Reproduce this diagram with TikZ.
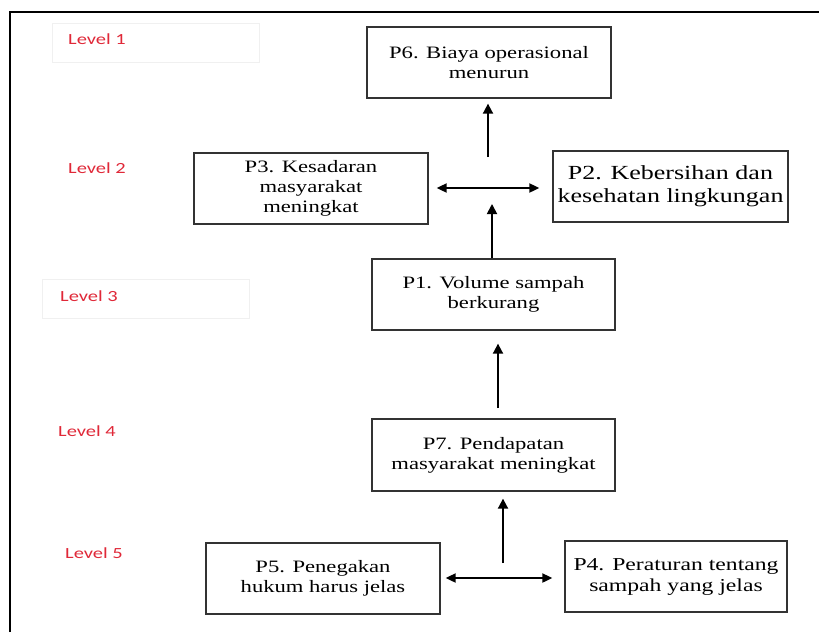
\documentclass[tikz,border=0pt]{standalone}
\usepackage{fontspec}
\setmainfont{Liberation Serif}[FakeStretch=1.3]
\newfontfamily\lvlfont{Carlito}[FakeStretch=1.32]
\usetikzlibrary{arrows.meta}
\definecolor{lvlred}{RGB}{224,40,56}
\tikzset{
  x=1pt, y=-1pt,
  pbox/.style={draw=black!80, line width=1.3pt, minimum height=71pt,
    align=center, inner sep=0pt, font=\fontsize{17.4}{20}\selectfont},
  lvl/.style={anchor=base west, inner sep=0pt, text=lvlred,
    font=\lvlfont\fontsize{15.5}{18}\selectfont},
  lvlframe/.style={draw=black!6, line width=0.8pt},
  arr/.style={line width=1.8pt, -{Triangle[length=10pt,width=10pt]}},
  darr/.style={line width=1.9pt, {Triangle[length=10pt,width=9pt]}-{Triangle[length=10pt,width=9pt]}}
}
\begin{document}
\begin{tikzpicture}
\useasboundingbox (0,0) rectangle (819,632);
\fill[white] (0,0) rectangle (819,632);

% outer frame (only top and left edges fall inside the page)
\draw[line width=2pt] (10,632) -- (10,12) -- (819,12);

% faint label frames
\draw[lvlframe] (52,23) rectangle (259,62);
\draw[lvlframe] (42,279) rectangle (249,318);

% level labels
\node[lvl] (L1) at (68,44) {Level 1};
\node[lvl] (L2) at (68,173) {Level 2};
\node[lvl] (L3) at (60,301) {Level 3};
\node[lvl] (L4) at (58,436) {Level 4};
\node[lvl] (L5) at (65,558) {Level 5};

% problem boxes
\node[pbox, minimum width=244pt] (P6) at (489,62.5) {P6. Biaya operasional\\menurun};
\node[pbox, minimum width=234pt] (P3) at (311,188.5) {P3. Kesadaran\\masyarakat\\meningkat};
\node[pbox, minimum width=235pt, font=\fontsize{20}{23}\selectfont] (P2) at (670.5,186.5) {P2. Kebersihan dan\\kesehatan lingkungan};
\node[pbox, minimum width=243pt] (P1) at (493.5,294.5) {P1. Volume sampah\\berkurang};
\node[pbox, minimum width=243pt, minimum height=72pt] (P7) at (493.5,455) {P7. Pendapatan\\masyarakat meningkat};
\node[pbox, minimum width=234pt] (P5) at (323,578.5) {P5. Penegakan\\hukum harus jelas};
\node[pbox, minimum width=222pt, font=\fontsize{18.2}{21}\selectfont] (P4) at (676,576.5) {P4. Peraturan tentang\\sampah yang jelas};

% free ends of the connectors
\coordinate (up2) at (488,157);
\coordinate (tip2) at (492,204);
\coordinate (mid2) at (490,188);
\coordinate (low1) at (498,408);
\coordinate (low5) at (503,563);
\coordinate (mid5) at (500,578);

% connectors
\draw[arr, shorten >=5pt] (up2) -- (up2 |- P6.south);
\draw[darr, shorten <=8pt, shorten >=13pt] (mid2 -| P3.east) -- (mid2 -| P2.west);
\draw[arr] (tip2 |- P1.north) -- (tip2);
\draw[arr, shorten >=13pt] (low1) -- (low1 |- P1.south);
\draw[arr, shorten >=7pt] (low5) -- (low5 |- P7.south);
\draw[darr, shorten <=5pt, shorten >=12pt] (mid5 -| P5.east) -- (mid5 -| P4.west);
\end{tikzpicture}
\end{document}
